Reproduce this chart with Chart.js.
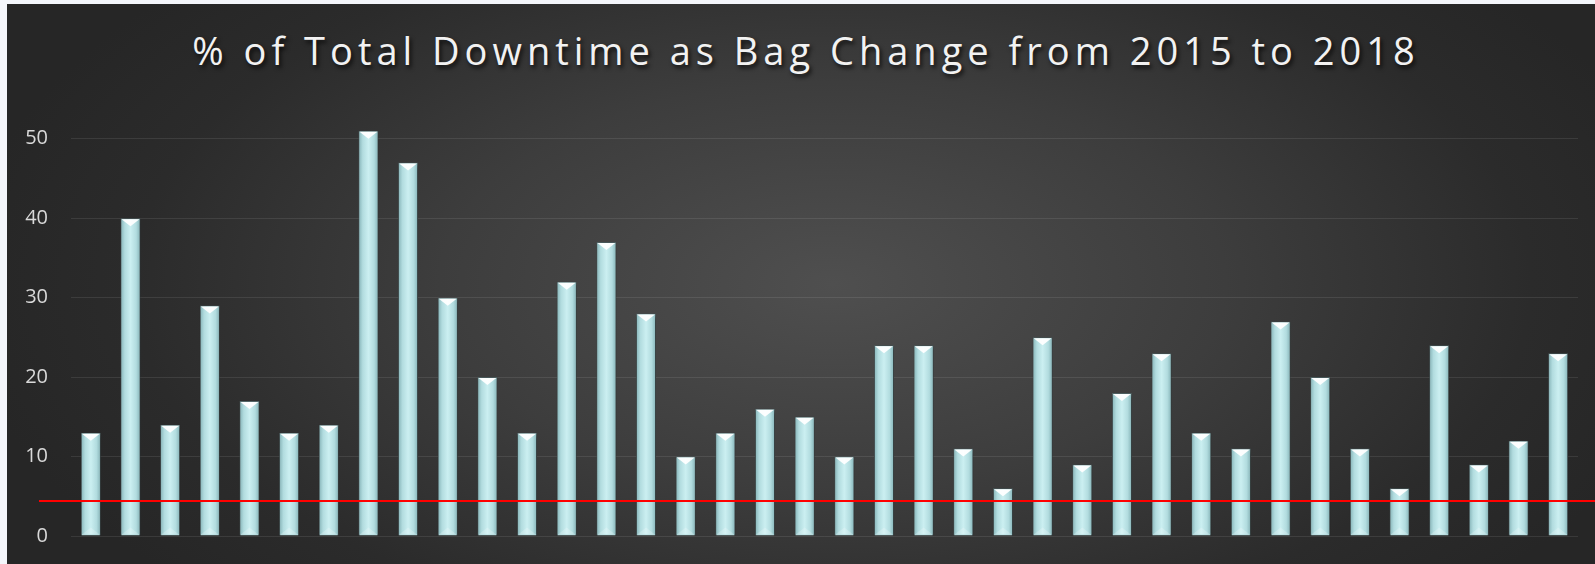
<!DOCTYPE html>
<html lang="en">
<head>
  <meta charset="UTF-8">
  <title>% of Total Downtime as Bag Change from 2015 to 2018</title>
  <script src="https://cdn.jsdelivr.net/npm/chart.js"></script>
  <style>
    html, body {
      margin: 0;
      padding: 0;
      background: #f4f6fb;
    }
    #wrap {
      position: relative;
      width: 1595px;
      height: 564px;
      overflow: hidden;
    }
    #bg {
      position: absolute;
      left: 7px;
      top: 4px;
      width: 1588px;
      height: 560px;
      background: radial-gradient(ellipse 55% 80% at 52% 50%, #4f4f4f 0%, #3d3d3d 45%, #2b2b2b 80%, #262626 100%);
    }
    #title {
      position: absolute;
      left: 12px;
      top: 31px;
      width: 1588px;
      text-align: center;
      font-family: "Open Sans", sans-serif;
      font-size: 38px;
      line-height: 1;
      letter-spacing: 5px;
      color: #f2f2f2;
      text-shadow: 2px 3px 4px rgba(0, 0, 0, 0.75);
    }
    canvas {
      position: absolute;
      left: 0;
      top: 0;
    }
  </style>
</head>
<body>
<div id="wrap">
  <div id="bg"></div>
  <div id="title">% of Total Downtime as Bag Change from 2015 to 2018</div>
  <canvas id="chart" width="1595" height="564"></canvas>
</div>

<script>
  // one bar per period, no category labels shown in the original
  const periods = ['1', '2', '3', '4', '5', '6', '7', '8', '9', '10',
    '11', '12', '13', '14', '15', '16', '17', '18', '19', '20',
    '21', '22', '23', '24', '25', '26', '27', '28', '29', '30',
    '31', '32', '33', '34', '35', '36', '37', '38'];
  const bagChangePct = [13, 40, 14, 29, 17, 13, 14, 51, 47, 30,
    20, 13, 32, 37, 28, 10, 13, 16, 15, 10,
    24, 24, 11, 6, 25, 9, 18, 23, 13, 11,
    27, 20, 11, 6, 24, 9, 12, 23];
  const targetPct = 4.4;
  const yTicks = [0, 10, 20, 30, 40, 50];

  // glassy bar look + red target line
  const decoPlugin = {
    id: 'deco',
    beforeDatasetsDraw(chart) {
      const ctx = chart.ctx;
      ctx.save();
      ctx.shadowColor = 'rgba(0,0,0,0.6)';
      ctx.shadowBlur = 5;
      ctx.shadowOffsetX = 1;
      ctx.shadowOffsetY = 1;
    },
    afterDatasetsDraw(chart) {
      const ctx = chart.ctx;
      ctx.restore();
      ctx.save();
      chart.getDatasetMeta(0).data.forEach(bar => {
        const { x, y, base, width } = bar.getProps(['x', 'y', 'base', 'width'], true);
        const l = x - width / 2 + 1;
        const r = x + width / 2 - 1;
        const t = y + 1;
        const b = base - 1;
        const g = ctx.createLinearGradient(l, 0, r, 0);
        g.addColorStop(0, '#8fbcc0');
        g.addColorStop(0.18, '#b2dcdf');
        g.addColorStop(0.5, '#cbeff1');
        g.addColorStop(0.82, '#b2dcdf');
        g.addColorStop(1, '#8fbcc0');
        ctx.fillStyle = g;
        ctx.fillRect(l, t, r - l, b - t);

        // white bevel on top
        const tri = Math.min(7, (b - t) / 2);
        ctx.fillStyle = 'rgba(255,255,255,0.95)';
        ctx.beginPath();
        ctx.moveTo(l, t);
        ctx.lineTo(r, t);
        ctx.lineTo(x, t + tri);
        ctx.closePath();
        ctx.fill();

        // faint bevel at the foot
        ctx.fillStyle = 'rgba(255,255,255,0.22)';
        ctx.beginPath();
        ctx.moveTo(l, b);
        ctx.lineTo(r, b);
        ctx.lineTo(x, b - tri);
        ctx.closePath();
        ctx.fill();
      });

      const yPix = chart.scales.y.getPixelForValue(targetPct);
      ctx.strokeStyle = '#ff0000';
      ctx.lineWidth = 2;
      ctx.beginPath();
      ctx.moveTo(chart.chartArea.left - 32, yPix);
      ctx.lineTo(chart.width, yPix);
      ctx.stroke();
      ctx.restore();
    }
  };

  const ctx = document.getElementById('chart').getContext('2d');
  new Chart(ctx, {
    type: 'bar',
    data: {
      labels: periods,
      datasets: [{
        data: bagChangePct,
        backgroundColor: '#b5dde0',
        borderColor: '#56696b',
        borderWidth: 1,
        barPercentage: 0.5,
        categoryPercentage: 1.0
      }]
    },
    options: {
      responsive: false,
      animation: false,
      layout: {
        padding: { top: 99, bottom: 28, left: 0, right: 17 }
      },
      plugins: {
        legend: { display: false },
        tooltip: { enabled: false }
      },
      scales: {
        x: { display: false },
        y: {
          min: 0,
          max: 55,
          afterBuildTicks: scale => {
            scale.ticks = yTicks.map(v => ({ value: v }));
          },
          afterFit: scale => { scale.width = 71; },
          border: { display: false },
          grid: {
            color: 'rgba(255,255,255,0.09)',
            lineWidth: 1,
            drawTicks: true,
            tickLength: 23,
            tickColor: 'rgba(0,0,0,0)'
          },
          ticks: {
            padding: 0,
            color: '#d9d9d9',
            font: { family: 'Open Sans', size: 20 }
          }
        }
      }
    },
    plugins: [decoPlugin]
  });
</script>
</body>
</html>
